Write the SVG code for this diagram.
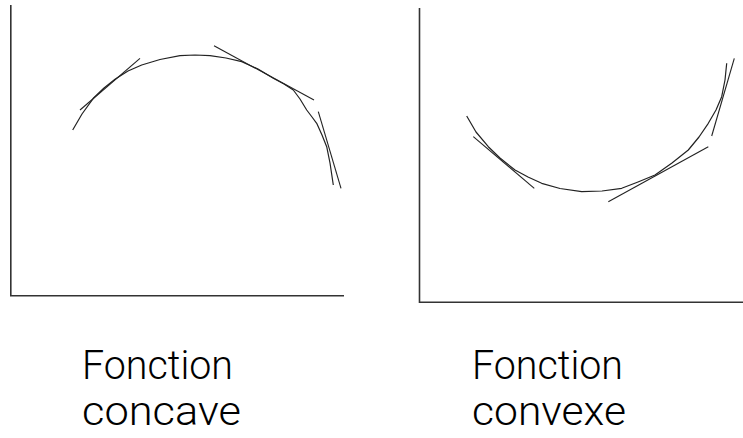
<svg xmlns="http://www.w3.org/2000/svg" width="743" height="438" viewBox="0 0 743 438">
<style>
.ax{stroke:#333;stroke-width:1.6;fill:none}
.cv{stroke:#222;stroke-width:1.2;fill:none;stroke-linejoin:round}
.tg{stroke:#222;stroke-width:1.1;fill:none}
.lb{font-family:Roboto,"Liberation Sans",Arial,sans-serif;font-weight:300;font-size:40px;fill:#000}
</style>
<rect width="743" height="438" fill="#fff"/>
<g id="concave">
<path class="ax" d="M10.8,5 V295.7 H344"/>
<polyline class="cv" points="72.7,130 82,114 93.3,98.3 104,88 115,79.3 128,71 141.7,65 160,59.5 180,55.7 195,55 210,55.7 226,58 241.7,61.7 258,69 273.3,78.3 284,84 293.3,90 300,99 306.7,110 312,117 316.7,123.3 322,135 326.7,146.7 330,163 333.3,185"/>
<line class="tg" x1="80" y1="110" x2="140" y2="58.3"/>
<line class="tg" x1="214" y1="45.7" x2="314" y2="100"/>
<line class="tg" x1="318.3" y1="111.7" x2="341" y2="188.3"/>
</g>
<g id="convexe">
<path class="ax" d="M419.5,8 V302.3 H743"/>
<polyline class="cv" points="466.7,116 476,132 488.3,146.7 500,158 515,170 528,177 541.7,183.3 560,188.5 581.7,191.7 602,191 621.7,188.3 638,182 655,175 672,163 688.3,150 699,137 708.3,123.3 716,110 721.7,96.7 725,80 726.7,63.3"/>
<line class="tg" x1="473.3" y1="136.7" x2="534.3" y2="188.3"/>
<line class="tg" x1="608.3" y1="201.7" x2="708.3" y2="146.7"/>
<line class="tg" x1="734.3" y1="58.3" x2="711.7" y2="136"/>
</g>
<g id="labels">
<text class="lb" x="82" y="379" textLength="151" lengthAdjust="spacingAndGlyphs">Fonction</text>
<text class="lb" x="82" y="425" textLength="159" lengthAdjust="spacingAndGlyphs">concave</text>
<text class="lb" x="472" y="379" textLength="151" lengthAdjust="spacingAndGlyphs">Fonction</text>
<text class="lb" x="472" y="425" textLength="154" lengthAdjust="spacingAndGlyphs">convexe</text>
</g>
</svg>
